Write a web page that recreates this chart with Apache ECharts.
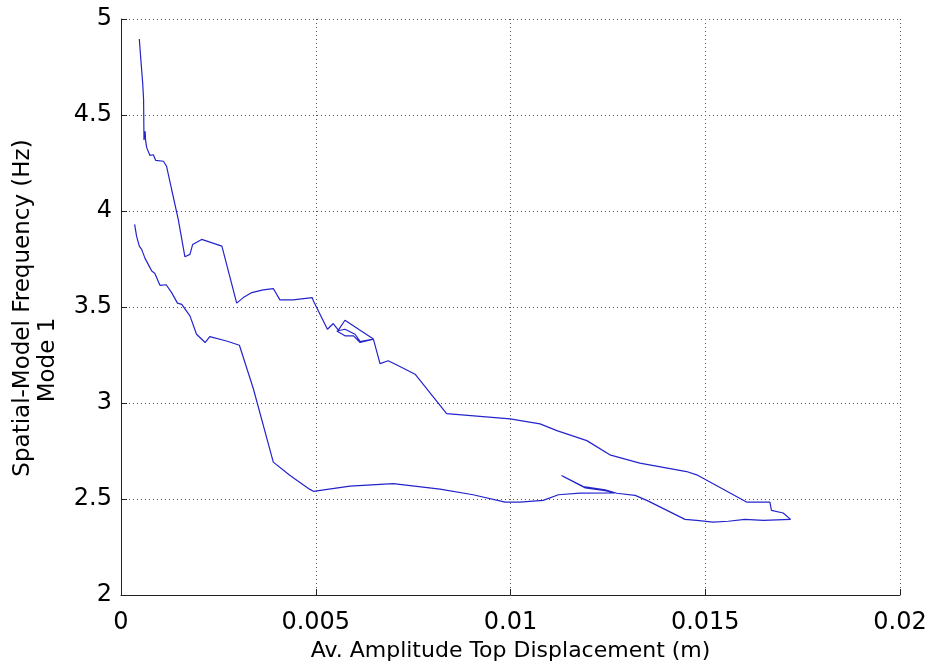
<!DOCTYPE html>
<html>
<head>
<meta charset="utf-8">
<script src="https://cdn.jsdelivr.net/npm/echarts@6/dist/echarts.min.js"></script>
<style>html,body{margin:0;padding:0;background:#fff;}#chart{width:934px;height:667px;}</style>
</head>
<body>
<div id="chart"></div>
<script>
// Upper branch (left to right)
var upperX = [0.00047,0.000505,0.00056,0.00058,0.00059,0.00062,0.00063,0.00066,0.00074,0.00083,0.00089,0.00109,0.00117,0.0013,0.00147,0.00164,0.00177,0.00184,0.00207,0.00259,0.00297,0.00314,0.00336,0.00365,0.00391,0.00408,0.00442,0.00491,0.00494,0.0053,0.00545,0.00558,0.00575,0.00648,0.00614,0.00601,0.00575,0.00554,0.00575,0.00597,0.00614,0.00648,0.00665,0.00686,0.00716,0.00755,0.00836,0.00999,0.01076,0.01119,0.01196,0.01255,0.01332,0.01452,0.01478,0.01606,0.01666,0.0167,0.017,0.01719];
var upperY = [4.896,4.80,4.657,4.58,4.37,4.415,4.37,4.33,4.29,4.293,4.264,4.259,4.233,4.112,3.956,3.762,3.774,3.826,3.852,3.817,3.52,3.549,3.575,3.589,3.596,3.537,3.537,3.549,3.531,3.384,3.414,3.38,3.431,3.333,3.32,3.358,3.384,3.375,3.35,3.35,3.315,3.333,3.205,3.22,3.19,3.15,2.945,2.917,2.891,2.856,2.804,2.73,2.687,2.643,2.626,2.484,2.484,2.441,2.427,2.394];
// Lower branch (right to left)
var lowerX = [0.01719,0.01649,0.01602,0.01559,0.0152,0.01478,0.01448,0.0135,0.0132,0.01273,0.01243,0.01187,0.01131,0.01138,0.01192,0.01243,0.01268,0.01178,0.01123,0.01084,0.01024,0.00986,0.00904,0.00819,0.00699,0.00588,0.00494,0.00485,0.00434,0.00391,0.0034,0.00304,0.00271,0.00228,0.00216,0.00194,0.00177,0.00156,0.00145,0.0013,0.00116,0.001,0.00087,0.00079,0.0007,0.00062,0.00053,0.00047,0.0004,0.00035];
var lowerY = [2.394,2.389,2.394,2.384,2.38,2.389,2.394,2.493,2.519,2.53,2.548,2.565,2.622,2.615,2.558,2.543,2.532,2.531,2.522,2.493,2.484,2.484,2.522,2.551,2.58,2.567,2.54,2.55,2.622,2.692,3.073,3.301,3.323,3.346,3.315,3.358,3.454,3.514,3.52,3.575,3.616,3.613,3.675,3.687,3.722,3.752,3.8,3.817,3.869,3.93];
var xTicks = [0, 0.005, 0.01, 0.015, 0.02];
var yTicks = [2, 2.5, 3, 3.5, 4, 4.5, 5];
var xTitle = 'Av. Amplitude Top Displacement (m)';
var yTitleLines = ['Spatial-Model Frequency (Hz)', 'Mode 1'];

function pairs(xs, ys){ return xs.map(function(x,i){ return [x, ys[i]]; }); }
function tickFmt(list){ return function(v){ var s = list.find(function(t){return Math.abs(t-v)<1e-9;}); return s===undefined?'':String(s); }; }

var chart = echarts.init(document.getElementById('chart'), null, {renderer:'canvas'});
var font = 'DejaVu Sans, sans-serif';
var gridLine = {show:true, lineStyle:{color:'#555', width:1, type:[1,3]}};
chart.setOption({
  animation:false,
  backgroundColor:'#fff',
  grid:{left:121, right:34, top:19, bottom:72, containLabel:false},
  xAxis:{
    type:'value', min:0, max:0.02, interval:0.005,
    name:xTitle, nameLocation:'middle', nameGap:44,
    nameTextStyle:{fontFamily:font, fontSize:22, color:'#000'},
    axisLine:{show:true, onZero:false, lineStyle:{color:'#222', width:1}},
    axisTick:{show:true, inside:true, length:6, lineStyle:{color:'#222'}},
    axisLabel:{fontFamily:font, fontSize:24, color:'#000', margin:16, formatter:tickFmt(xTicks)},
    splitLine:gridLine
  },
  yAxis:{
    type:'value', min:2, max:5, interval:0.5,
    axisLine:{show:true, onZero:false, lineStyle:{color:'#222', width:1}},
    axisTick:{show:true, inside:true, length:6, lineStyle:{color:'#222'}},
    axisLabel:{fontFamily:font, fontSize:24, color:'#000', margin:9, formatter:tickFmt(yTicks)},
    splitLine:gridLine
  },
  graphic:[
    {type:'text', x:23, y:308, rotation:Math.PI/2,
     style:{text:yTitleLines[0], x:0, y:0, align:'center', verticalAlign:'middle', fontFamily:font, fontSize:23, fill:'#000'}},
    {type:'text', x:48, y:360, rotation:Math.PI/2,
     style:{text:yTitleLines[1], x:0, y:0, align:'center', verticalAlign:'middle', fontFamily:font, fontSize:23, fill:'#000'}}
  ],
  series:[
    {type:'line', data:pairs(upperX, upperY), showSymbol:false, symbol:'none', lineStyle:{color:'#2424cc', width:1.2}},
    {type:'line', data:pairs(lowerX, lowerY), showSymbol:false, symbol:'none', lineStyle:{color:'#2424cc', width:1.2}}
  ]
});
</script>
</body>
</html>
